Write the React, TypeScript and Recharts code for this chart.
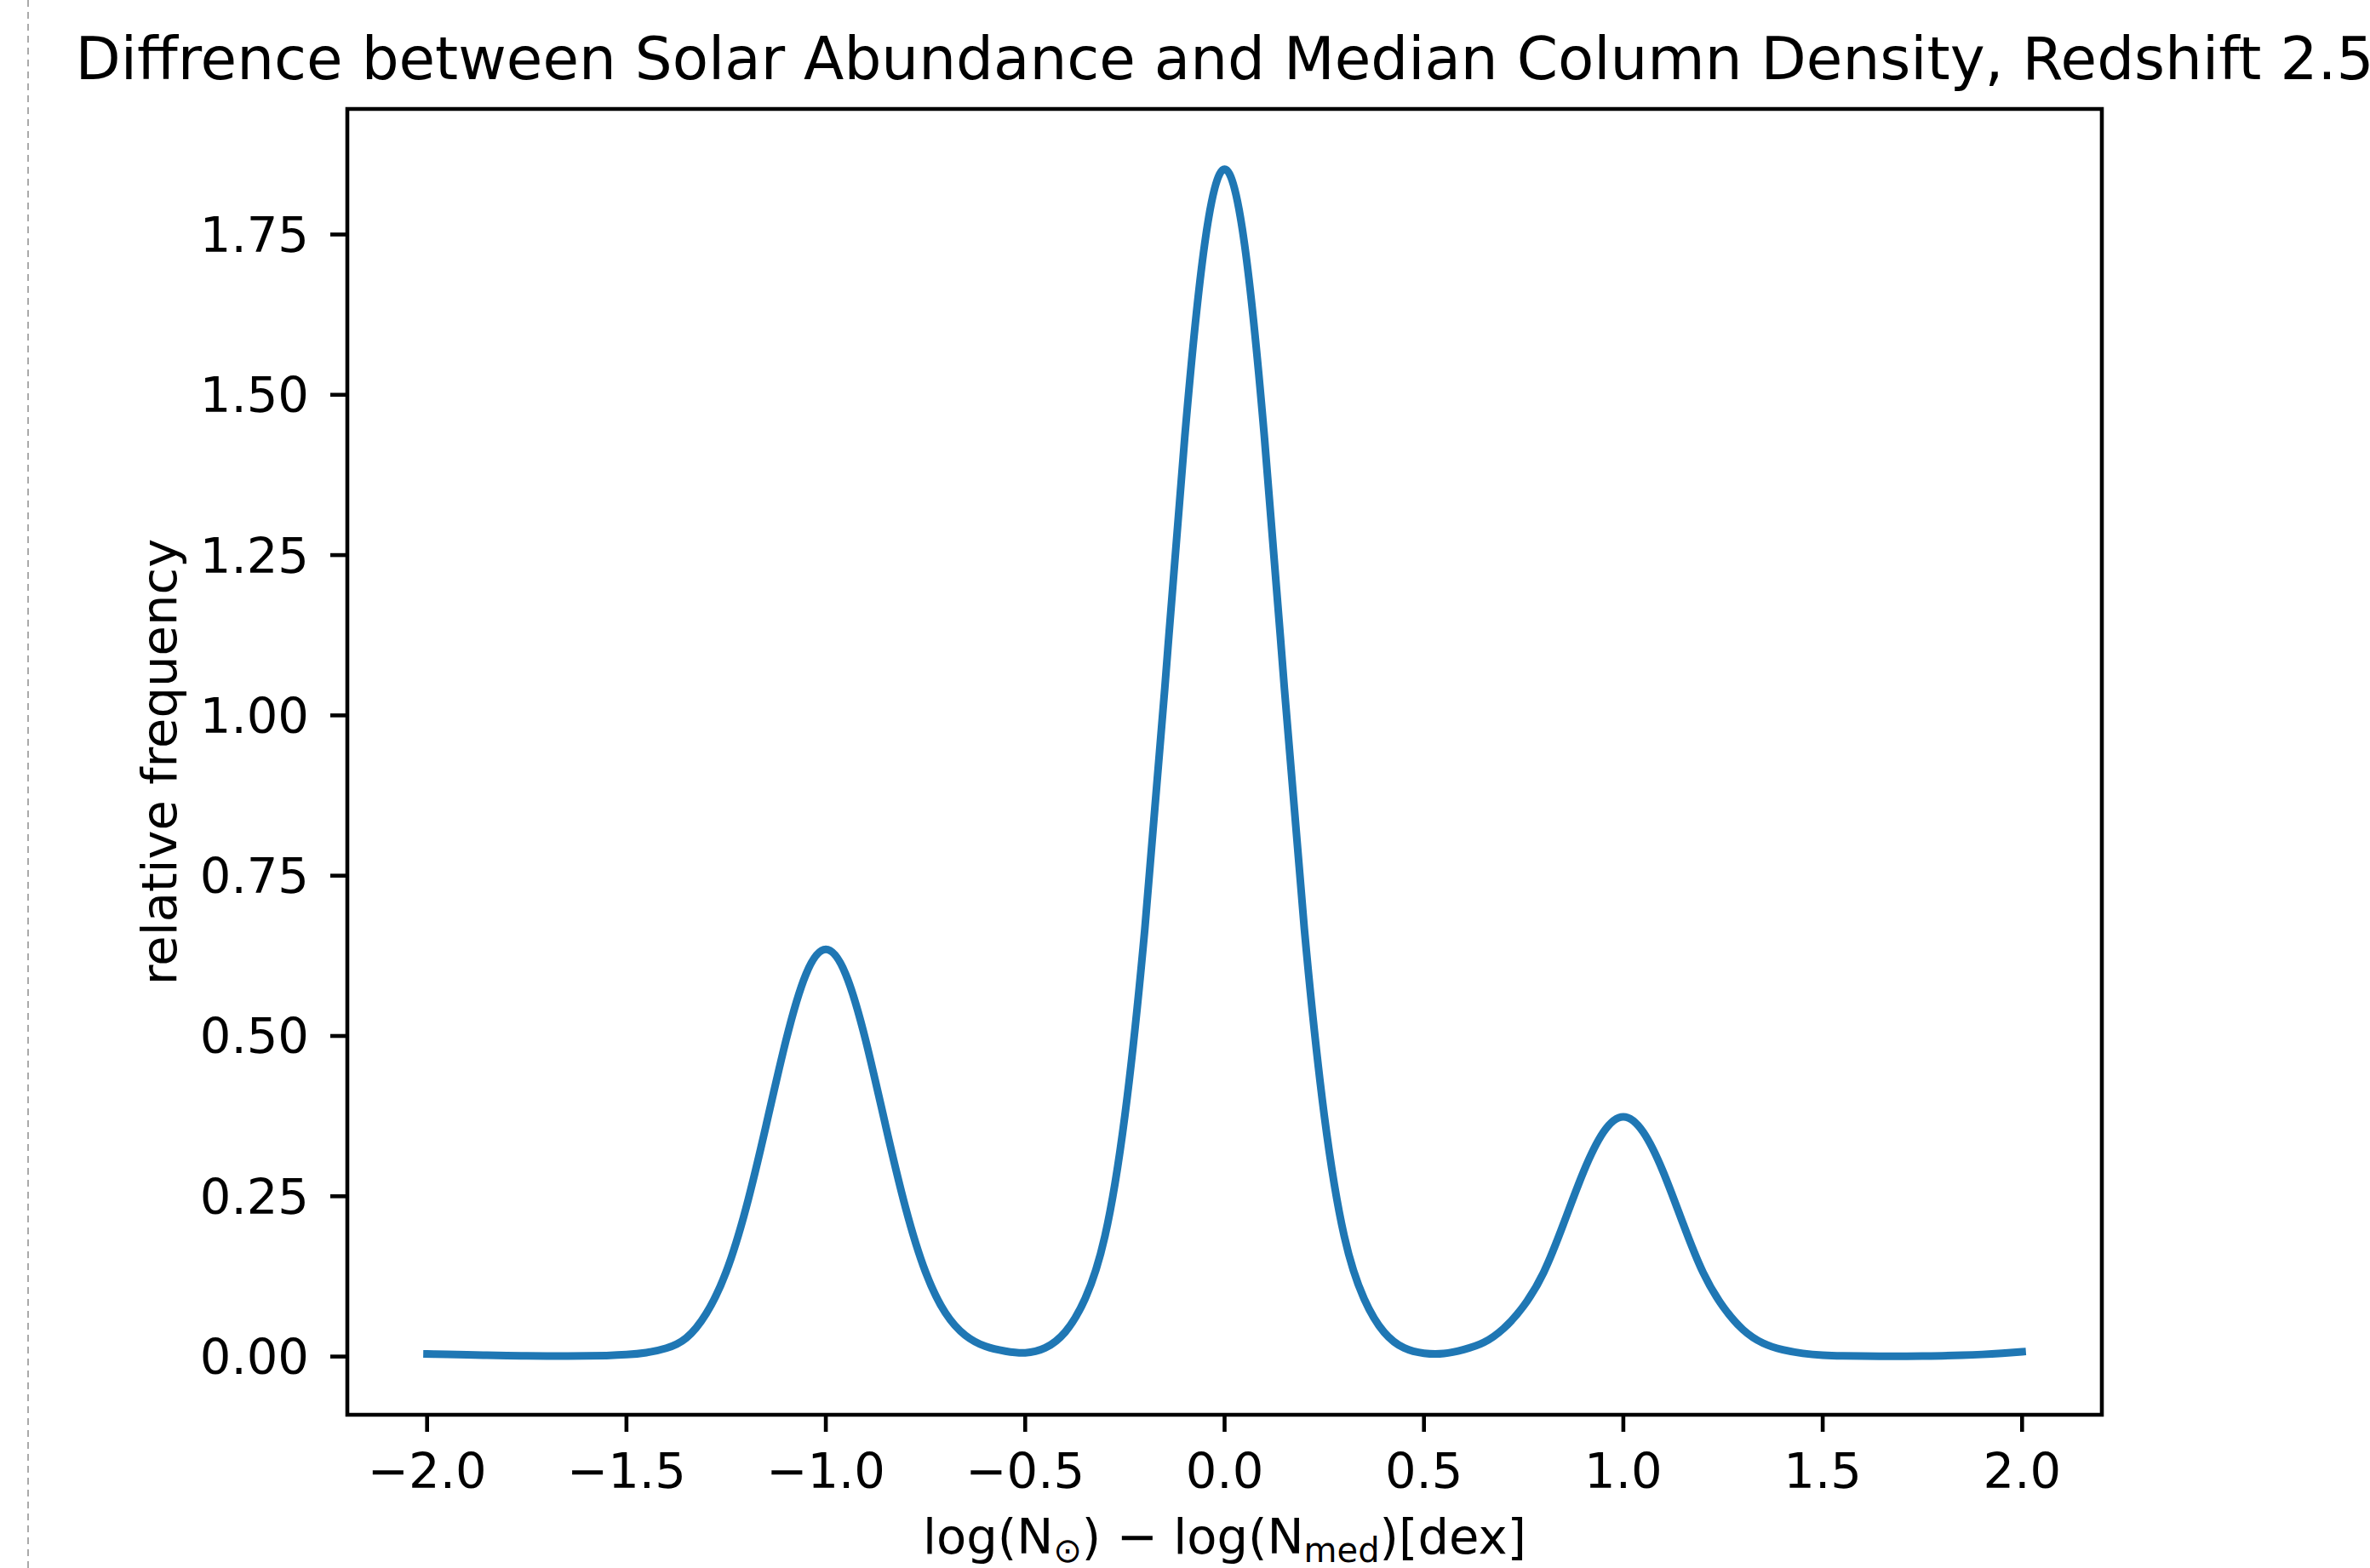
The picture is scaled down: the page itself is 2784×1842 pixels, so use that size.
import { LineChart, Line, XAxis, YAxis, ReferenceArea } from 'recharts'

// x positions of the curve samples, log(N_sun) - log(N_med) in dex
const offsets = [
  -2.0, -1.95, -1.9, -1.85, -1.8, -1.75, -1.7, -1.65, -1.6, -1.55, -1.5, -1.45, -1.4, -1.35, -1.3, -1.25, -1.2,
  -1.15, -1.1, -1.05, -1.0, -0.95, -0.9, -0.85, -0.8, -0.75, -0.7, -0.65, -0.6, -0.55, -0.5, -0.45, -0.4, -0.35,
  -0.3, -0.25, -0.2, -0.15, -0.1, -0.05, 0.0, 0.05, 0.1, 0.15, 0.2, 0.25, 0.3, 0.35, 0.4, 0.45, 0.5, 0.55, 0.6,
  0.65, 0.7, 0.75, 0.8, 0.85, 0.9, 0.95, 1.0, 1.05, 1.1, 1.15, 1.2, 1.25, 1.3, 1.35, 1.4, 1.45, 1.5, 1.55, 1.6,
  1.65, 1.7, 1.75, 1.8, 1.85, 1.9, 1.95, 2.0,
]

// relative frequency
const frequency = [
  0.004, 0.0035, 0.0028, 0.002, 0.0014, 0.001, 0.0008, 0.0008, 0.001, 0.0016, 0.003, 0.0062, 0.013, 0.029, 0.067,
  0.132, 0.232, 0.36, 0.493, 0.596, 0.635, 0.596, 0.493, 0.36, 0.232, 0.132, 0.068, 0.033, 0.016, 0.0085, 0.0058,
  0.0135, 0.038, 0.09, 0.188, 0.376, 0.667, 1.042, 1.433, 1.735, 1.852, 1.735, 1.433, 1.042, 0.667, 0.376, 0.188,
  0.09, 0.038, 0.0135, 0.0052, 0.0048, 0.011, 0.022, 0.044, 0.079, 0.131, 0.207, 0.288, 0.35, 0.374, 0.35, 0.288,
  0.207, 0.131, 0.078, 0.042, 0.021, 0.0105, 0.005, 0.0022, 0.0011, 0.0007, 0.0006, 0.0006, 0.0008, 0.0012,
  0.002, 0.0033, 0.0052, 0.0075,
]

const xTicks = [-2.0, -1.5, -1.0, -0.5, 0.0, 0.5, 1.0, 1.5, 2.0]
const yTicks = [0, 0.25, 0.5, 0.75, 1.0, 1.25, 1.5, 1.75]
const xDomain: [number, number] = [-2.2, 2.2]
const yDomain: [number, number] = [-0.0908, 1.9458]

const title = 'Diffrence between Solar Abundance and Median Column Density, Redshift 2.5'
const yLabel = 'relative frequency'

const data = offsets.map((x, i) => ({ x, y: frequency[i] }))

const FONT = '"DejaVu Sans", sans-serif'
const TICK_PX = 57.6
const SPINE = 4.6
const fmt = (v: number, d: number) => v.toFixed(d).replace('-', '\u2212')

export default function App() {
  return (
    <div style={{ position: 'absolute', left: 0, top: 0, width: 2784, height: 1842, background: '#fff' }}>
      <LineChart
        width={2784}
        height={1842}
        data={data}
        margin={{ top: 128, right: 315, bottom: 30, left: 208 }}
        style={{ fontFamily: FONT }}
      >
        <XAxis
          dataKey="x"
          type="number"
          domain={xDomain}
          allowDataOverflow
          ticks={xTicks}
          tickFormatter={(v: number) => fmt(v, 1)}
          height={150}
          axisLine={false}
          tickSize={20}
          tickMargin={25}
          tickLine={{ stroke: '#000', strokeWidth: SPINE }}
          tick={{ fill: '#000', fontSize: TICK_PX, fontFamily: FONT }}
          interval={0}
        />
        <YAxis
          type="number"
          domain={yDomain}
          allowDataOverflow
          ticks={yTicks}
          tickFormatter={(v: number) => fmt(v, 2)}
          width={200}
          axisLine={false}
          tickSize={20}
          tickMargin={25}
          tickLine={{ stroke: '#000', strokeWidth: SPINE }}
          tick={{ fill: '#000', fontSize: TICK_PX, fontFamily: FONT }}
          interval={0}
        />
        <Line
          dataKey="y"
          type="natural"
          stroke="#1f77b4"
          strokeWidth={9}
          strokeLinecap="square"
          strokeLinejoin="round"
          dot={false}
          activeDot={false}
          isAnimationActive={false}
        />
        <ReferenceArea
          x1={xDomain[0]}
          x2={xDomain[1]}
          y1={yDomain[0]}
          y2={yDomain[1]}
          fill="none"
          stroke="#000"
          strokeWidth={SPINE}
          ifOverflow="visible"
        />
      </LineChart>
      <svg
        width={2784}
        height={1842}
        style={{ position: 'absolute', left: 0, top: 0, pointerEvents: 'none' }}
      >
        <line x1={33} y1={0} x2={33} y2={1842} stroke="#aaa" strokeWidth={2} strokeDasharray="8 6" />
        <text x={1438.5} y={93} textAnchor="middle" fontSize={69.2} fontFamily={FONT} fill="#000">
          {title}
        </text>
        <text x={1438.5} y={1825} textAnchor="middle" fontSize={TICK_PX} fontFamily={FONT} fill="#000">
          log(N
          <tspan fontSize={40} dy={10}>{'\u2299'}</tspan>
          <tspan dy={-10}>{') \u2212 log(N'}</tspan>
          <tspan fontSize={40} dy={10}>med</tspan>
          <tspan dy={-10}>)[dex]</tspan>
        </text>
        <text
          x={207}
          y={895}
          textAnchor="middle"
          fontSize={TICK_PX}
          fontFamily={FONT}
          fill="#000"
          transform="rotate(-90 207 895)"
        >
          {yLabel}
        </text>
      </svg>
    </div>
  )
}
